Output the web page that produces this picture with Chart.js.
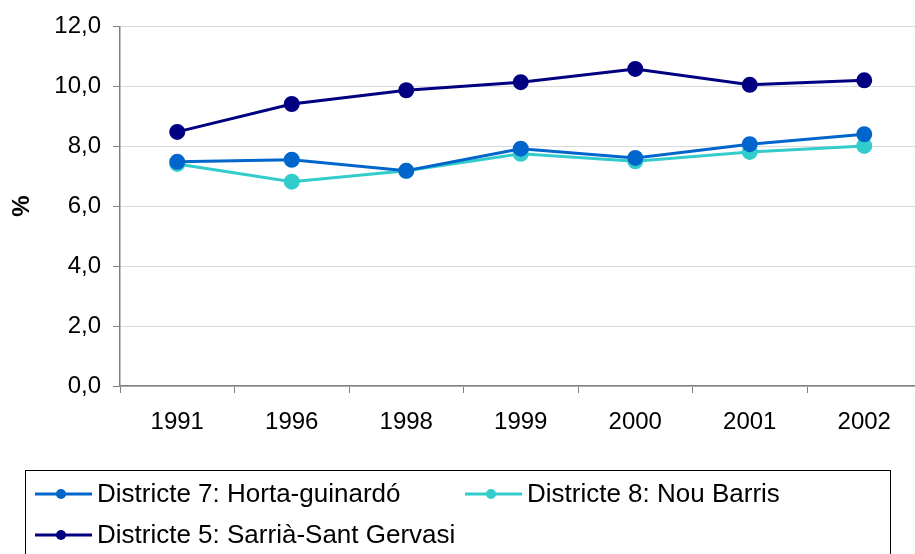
<!DOCTYPE html>
<html>
<head>
<meta charset="utf-8">
<script src="https://cdn.jsdelivr.net/npm/chart.js@4.4.1/dist/chart.umd.min.js"></script>
<style>
html,body{margin:0;padding:0;background:#fff;overflow:hidden;}
#wrap{width:931px;height:554px;position:relative;}
</style>
</head>
<body>
<div id="wrap"><canvas id="c" width="931" height="554"></canvas></div>
<script>
const years = ['1991','1996','1998','1999','2000','2001','2002'];
const horta = [7.48, 7.55, 7.18, 7.92, 7.61, 8.07, 8.40];
const nouBarris = [7.41, 6.82, 7.18, 7.75, 7.50, 7.81, 8.01];
const sarria = [8.48, 9.41, 9.87, 10.14, 10.58, 10.05, 10.20];
const seriesNames = ['Districte 7: Horta-guinardó','Districte 8: Nou Barris','Districte 5: Sarrià-Sant Gervasi'];
const seriesColors = ['#0066CC','#33CCCC','#000080'];
const yTicks = [0,2,4,6,8,10,12];

const FONT = "'Liberation Sans', Arial, sans-serif";

const legendPlugin = {
  id: 'boxLegend',
  afterDraw(chart) {
    const ctx = chart.ctx;
    ctx.save();
    ctx.strokeStyle = '#000';
    ctx.lineWidth = 1;
    ctx.strokeRect(25.5, 470.5, 865, 120);
    const pos = [[35, 494], [465, 494], [35, 535]];
    ctx.font = '26px ' + FONT;
    chart.data.datasets.forEach((ds, i) => {
      const [x, y] = pos[i];
      ctx.strokeStyle = ds.borderColor;
      ctx.lineWidth = 3;
      ctx.beginPath(); ctx.moveTo(x, y); ctx.lineTo(x + 57, y); ctx.stroke();
      ctx.fillStyle = ds.borderColor;
      ctx.beginPath(); ctx.arc(x + 26, y, 5, 0, Math.PI * 2); ctx.fill();
      ctx.fillStyle = '#000';
      ctx.textBaseline = 'middle';
      ctx.textAlign = 'left';
      ctx.fillText(ds.label, x + 62, y + 1);
    });
    ctx.restore();
  }
};

const vals = [horta, nouBarris, sarria];
new Chart(document.getElementById('c'), {
  type: 'line',
  data: {
    labels: years,
    datasets: vals.map((v, i) => ({
      label: seriesNames[i],
      data: v,
      borderColor: seriesColors[i],
      backgroundColor: seriesColors[i],
      pointBackgroundColor: seriesColors[i],
      pointBorderColor: seriesColors[i],
      borderWidth: 3,
      pointRadius: 6.5,
      pointHoverRadius: 6.5,
      tension: 0,
      fill: false
    }))
  },
  options: {
    responsive: false,
    animation: false,
    events: [],
    layout: { padding: { top: 25, right: 0, left: 0, bottom: 0 } },
    plugins: { legend: { display: false }, tooltip: { enabled: false } },
    scales: {
      x: {
        offset: true,
        grid: { display: true, offset: true, drawOnChartArea: false, drawTicks: true, tickLength: 7, tickColor: '#808080', lineWidth: 1 },
        border: { display: true, color: '#808080', width: 1.5 },
        ticks: { color: '#000', font: { family: FONT, size: 24 }, padding: 15, maxRotation: 0, autoSkip: false },
        afterFit(s) { s.height = 168; }
      },
      y: {
        min: 0, max: 12,
        afterBuildTicks(s) { s.ticks = yTicks.map(v => ({ value: v })); },
        grid: { color: '#d9d9d9', lineWidth: 1, tickColor: '#808080', tickLength: 7 },
        border: { display: true, color: '#808080', width: 1.5 },
        ticks: { color: '#000', font: { family: FONT, size: 24 }, padding: 12,
          callback: v => v.toFixed(1).replace('.', ',') },
        title: { display: true, text: '%', color: '#000', font: { family: FONT, size: 24, weight: 'bold' }, padding: { top: 8, bottom: 0 } },
        afterFit(s) { s.width = 120; }
      }
    }
  },
  plugins: [legendPlugin]
});
</script>
</body>
</html>
